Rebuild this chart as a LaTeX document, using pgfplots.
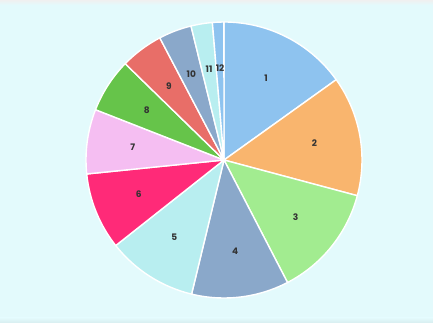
\documentclass[border=0pt]{standalone}
\usepackage{pgfplots}
\pgfplotsset{compat=1.18}
\usepackage{pgfplotstable}
\usepackage{fontspec}
\setmainfont{Poppins}
\definecolor{bg}{HTML}{E3FAFC}
\definecolor{c1}{HTML}{8EC3EF}
\definecolor{c2}{HTML}{F9B56E}
\definecolor{c3}{HTML}{A2EC90}
\definecolor{c4}{HTML}{8AA8CA}
\definecolor{c5}{HTML}{B8EEF0}
\definecolor{c6}{HTML}{FF2A78}
\definecolor{c7}{HTML}{F5BEF2}
\definecolor{c8}{HTML}{66C44A}
\definecolor{c9}{HTML}{E86E68}
\definecolor{c10}{HTML}{8AA8CA}
\definecolor{c11}{HTML}{B8EEF0}
\definecolor{c12}{HTML}{8EC3EF}

\pgfplotstableread{
label value
1 54.4
2 50.6
3 47.6
4 41.0
5 38.1
6 32.5
7 27.2
8 22.9
9 18.0
10 13.9
11 9.0
12 4.8
}\piedata

\def\total{0}
\pgfplotsforeachungrouped \i in {1,...,12}{%
  \pgfmathtruncatemacro\row{\i-1}%
  \pgfplotstablegetelem{\row}{value}\of\piedata
  \pgfmathsetmacro\tmp{\total+\pgfplotsretval}%
  \xdef\total{\tmp}%
}
\def\cum{0}
\pgfplotsforeachungrouped \i in {1,...,12}{%
  \pgfmathtruncatemacro\row{\i-1}%
  \pgfplotstablegetelem{\row}{value}\of\piedata
  \pgfmathsetmacro\v{\pgfplotsretval/\total*360}%
  \expandafter\xdef\csname s\i\endcsname{\cum}%
  \pgfmathsetmacro\newcum{\cum+\v}%
  \xdef\cum{\newcum}%
  \expandafter\xdef\csname e\i\endcsname{\cum}%
  \pgfmathsetmacro\m{90-(\csname s\i\endcsname+\cum)/2}%
  \expandafter\xdef\csname m\i\endcsname{\m}%
  \pgfmathsetmacro\a{90-\csname s\i\endcsname}%
  \expandafter\xdef\csname a\i\endcsname{\a}%
  \pgfmathsetmacro\b{90-\cum}%
  \expandafter\xdef\csname b\i\endcsname{\b}%
}

\begin{document}
\begin{tikzpicture}
\begin{axis}[hide axis, x=1pt, y=1pt, xmin=0, xmax=433, ymin=0, ymax=323,
  scale only axis, clip=false]
\fill[bg] (axis cs:0,0) rectangle (axis cs:433,323);
\shade[top color=black!6, bottom color=bg] (axis cs:0,318) rectangle (axis cs:433,323);
\shade[top color=bg, bottom color=black!5!bg] (axis cs:0,0) rectangle (axis cs:433,5);
\pgfplotsinvokeforeach{1,...,12}{
  \fill[c#1, draw=white, line width=1.4pt, line join=round]
    (axis cs:224,163) -- ++(\csname a#1\endcsname:138pt)
    arc[start angle=\csname a#1\endcsname, end angle=\csname b#1\endcsname, radius=138pt] -- cycle;
  \path (axis cs:224,163) ++(\csname m#1\endcsname:92pt)
    node[font=\fontsize{9}{10}\selectfont\bfseries, text=black!80] {#1};
}
\end{axis}
\end{tikzpicture}
\end{document}
